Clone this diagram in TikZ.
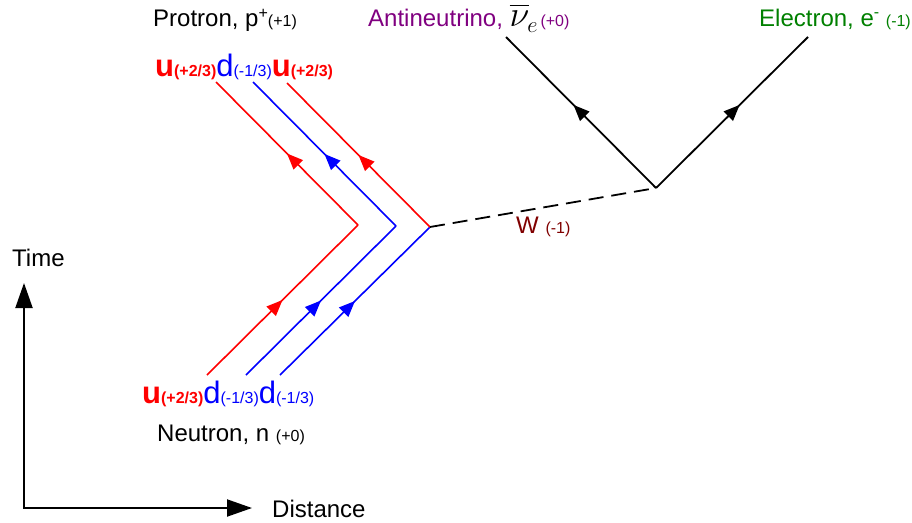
\documentclass[tikz,border=0pt]{standalone}
\usepackage{fontspec}
\setmainfont{Liberation Sans}
\usepackage{graphicx}
\usepackage{tikz}
\usetikzlibrary{positioning,arrows.meta,decorations.markings}
\usepackage{amsmath}
\usepackage{xcolor}
\definecolor{qred}{RGB}{255,0,0}
\definecolor{qblue}{RGB}{0,0,255}
\definecolor{nucol}{RGB}{128,0,128}
\definecolor{ecol}{RGB}{0,128,0}
\definecolor{wcol}{RGB}{128,0,0}
\newcommand{\chg}[1]{{\fontsize{16}{18}\selectfont #1}}
\newcommand{\upq}{{\color{qred}\bfseries\fontsize{31}{34}\selectfont u\fontsize{16}{18}\selectfont(+2/3)}}
\newcommand{\dnq}{{\color{qblue}\fontsize{31}{34}\selectfont d\fontsize{16}{18}\selectfont(-1/3)}}
\newcommand{\antinu}{{\color{black}\scalebox{1.45}{$\overline{\nu}$}\kern-2pt\raisebox{-6pt}{\scalebox{1.3}{$\scriptstyle e$}}}}

\begin{document}
\begin{tikzpicture}[
    x=1pt, y=-1pt,
    lbl/.style={inner sep=0pt, anchor=base west, font=\fontsize{24}{28}\selectfont},
    midarrow/.style={line width=1.6pt, postaction={decorate},
      decoration={markings, mark=at position #1 with {\arrow{Triangle[length=16pt,width=13pt]}}}},
    midarrow/.default=0.5,
    axis/.style={line width=2pt, {Triangle[length=25pt,width=17pt]}-{Triangle[length=25pt,width=17pt]}},
    wline/.style={line width=1.8pt, dash pattern=on 15pt off 8pt}
  ]
  \useasboundingbox (0,0) rectangle (912,522);
  % axes
  \coordinate (ttop) at (24,283);
  \coordinate (dend) at (252,508);
  \draw[axis] (ttop) |- (dend);
  \node[lbl] (timelbl) at (12,266) {Time};
  \node[lbl] (distlbl) at (272,517) {Distance};

  % quark lines
  \coordinate (nu) at (207,375);
  \coordinate (nd1) at (246,375);
  \coordinate (nd2) at (280,375);
  \coordinate (vu) at (358,225);
  \coordinate (vd) at (396,226);
  \coordinate (vw) at (430,227);
  \coordinate (pu1) at (216,82);
  \coordinate (pd) at (253,82);
  \coordinate (pu2) at (287,83);
  \draw[midarrow, qred] (nu) -- (vu);
  \draw[midarrow, qred] (vu) -- (pu1);
  \draw[midarrow, qblue] (nd1) -- (vd);
  \draw[midarrow, qblue] (vd) -- (pd);
  \draw[midarrow, qblue] (nd2) -- (vw);
  \draw[midarrow, qred] (vw) -- (pu2);

  % W and leptons
  \coordinate (wv) at (656,188);
  \coordinate (nubar) at (506,37);
  \coordinate (elec) at (808,37);
  \draw[wline] (vw) -- (wv);
  \draw[midarrow=0.55, line width=1.8pt] (wv) -- (nubar);
  \draw[midarrow=0.55, line width=1.8pt] (wv) -- (elec);
  \node[lbl, text=wcol] (wlbl) at (516,233) {W \chg{(-1)}};

  % labels
  \node[lbl] (prot) at (153,26) {Protron, p\raisebox{8pt}{\chg{+}}\chg{(+1)}};
  \node[lbl] (pquarks) at (155,76) {\upq\dnq\upq};
  \node[lbl] (nquarks) at (142,403) {\upq\dnq\dnq};
  \node[lbl] (neut) at (157,441) {Neutron, n \chg{(+0)}};
  \node[lbl, text=nucol] (nulbl) at (368,26) {Antineutrino, \antinu\kern3pt\chg{(+0)}};
  \node[lbl, text=ecol] (elbl) at (759,26) {Electron, e\raisebox{9pt}{\chg{-}} \chg{(-1)}};
\end{tikzpicture}
\end{document}
